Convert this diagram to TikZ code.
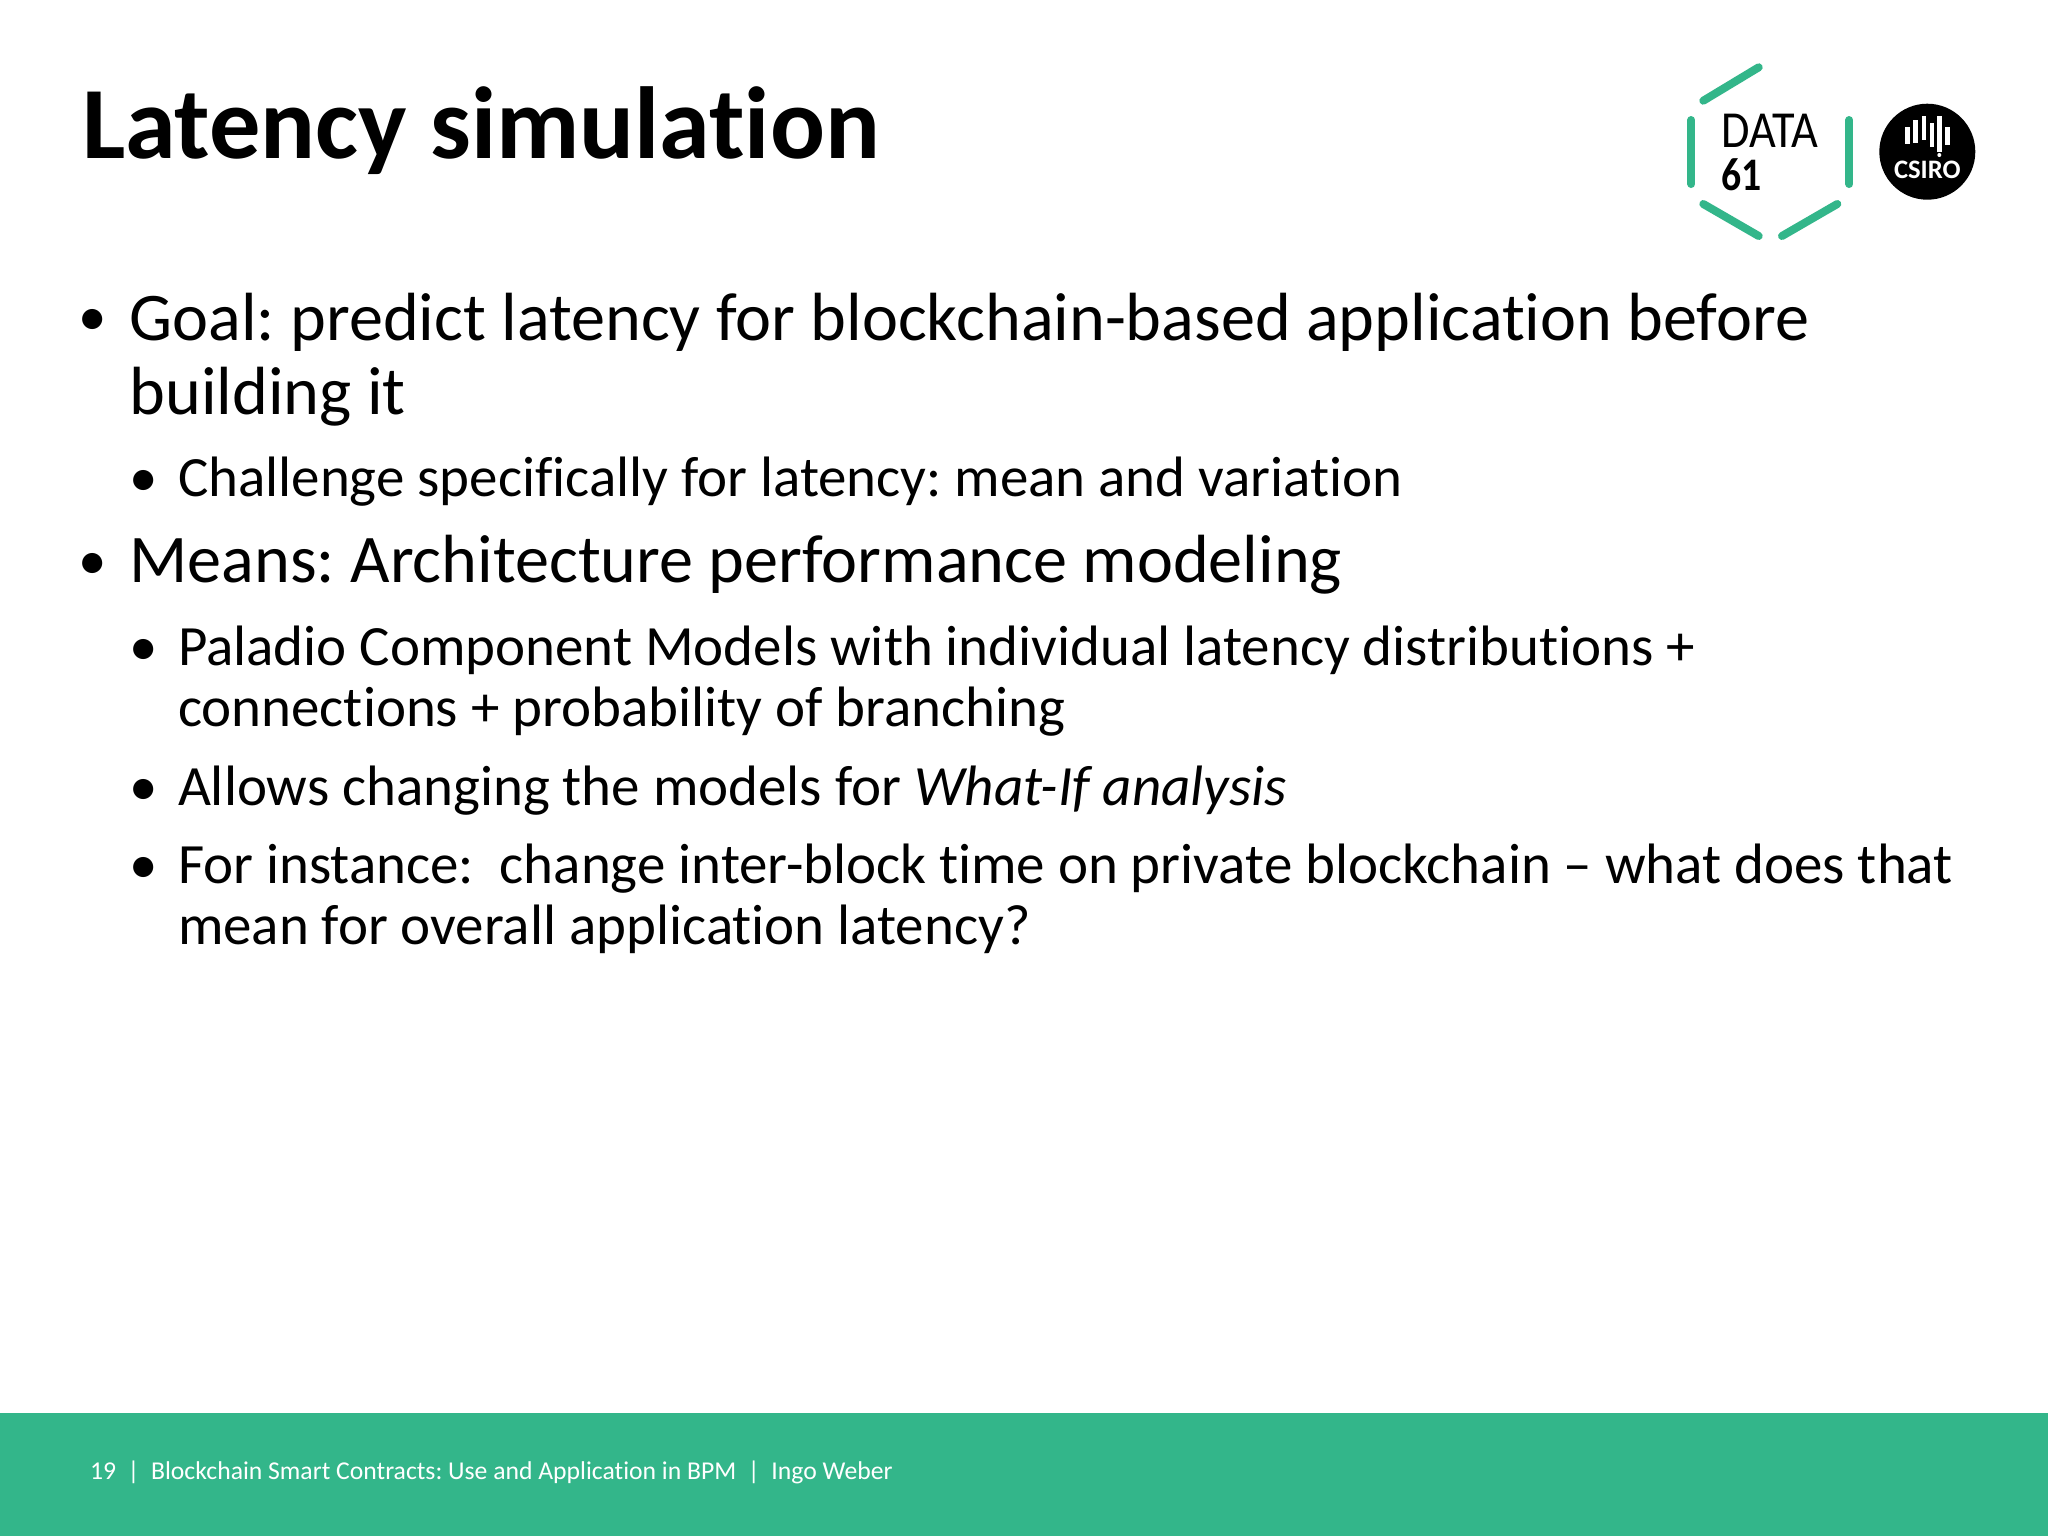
\documentclass[tikz,border=0pt]{standalone}
\usepackage{fontspec}
\setmainfont[Ligatures=NoCommon]{Carlito}
\frenchspacing
\definecolor{dgreen}{RGB}{51,182,138}
\tikzset{every picture/.style={line width=0.75pt}}
\tikzset{
  titletext/.style={anchor=base west,inner sep=0pt,font=\fontsize{38.4}{40}\selectfont\bfseries},
  bigtext/.style={anchor=base west,inner sep=0pt,font=\fontsize{25.57}{28}\selectfont},
  subtext/.style={anchor=base west,inner sep=0pt,font=\fontsize{21.36}{24}\selectfont},
  foottext/.style={anchor=base west,inner sep=0pt,text=white,font=\fontsize{9.63}{12}\selectfont},
  hexbar/.style={color=dgreen,line width=3pt,line cap=round},
  csirobar/.style={color=white,line width=1.7pt}
}
\begin{document}
\begin{tikzpicture}[x=0.375pt,y=0.375pt,yscale=-1,xscale=1]
\useasboundingbox (0,0) rectangle (2048,1536);
\fill [white] (0,0) rectangle (2048,1536);

%Footer band
\fill [dgreen] (0,1413) rectangle (2048,1536);

% Text Node
\node [titletext] (title) at (81,158) {Latency simulation};

% Text Node
\node [subtext] (bulGoal) at (77,335) {•};
\node [bigtext] (goalA) at (128.5,340) {Goal: predict latency for blockchain-based application before};
\node [bigtext] (goalB) at (128.5,414) {building it};
\node [subtext] (bulChal) at (128.5,496) {•};
\node [subtext] (chal) at (177,496) {Challenge specifically for latency: mean and variation};
\node [subtext] (bulMeans) at (77,579) {•};
\node [bigtext] (means) at (128.5,582.5) {Means: Architecture performance modeling};
\node [subtext] (bulPal) at (128.5,665) {•};
\node [subtext] (palA) at (177,665) {Paladio Component Models with individual latency distributions +};
\node [subtext] (palB) at (177,726) {connections + probability of branching};
\node [subtext] (bulAll) at (128.5,805) {•};
\node [subtext] (allows) at (177,805) {Allows changing the models for \textit{What-If analysis}};
\node [subtext] (bulFor) at (128.5,883) {•};
\node [subtext] (forA) at (177,883) {For instance:\ \ change inter-block time on private blockchain – what does that};
\node [subtext] (forB) at (177,944) {mean for overall application latency?};

% Text Node
\node [foottext] (foot) at (89,1479) {19\ \ |\ \ Blockchain Smart Contracts: Use and Application in BPM\ \ |\ \ Ingo Weber};

%Data61 hexagon
\draw [hexbar] (1703.3,100.7) -- (1758.7,67.3);
\draw [hexbar] (1691.3,120) -- (1691.3,184);
\draw [hexbar] (1849.3,120) -- (1849.3,184);
\draw [hexbar] (1703.3,204) -- (1758.7,236);
\draw [hexbar] (1782,236) -- (1837.3,204);
\node [anchor=base west,inner sep=0pt,xscale=0.89,font=\fontsize{19.5}{20}\selectfont] (data) at (1721,147) {DATA};
\node [anchor=base west,inner sep=0pt,xscale=0.85,font=\fontsize{17.5}{18}\selectfont\bfseries] (sixone) at (1721,190) {61};

%Csiro circle
\fill [black] (1927.3,151.7) circle [radius=48];
\draw [csirobar] (1907.3,127) -- (1907.3,144);
\draw [csirobar] (1915.3,120) -- (1915.3,143);
\draw [csirobar] (1924,116) -- (1924,140);
\draw [csirobar] (1932,123) -- (1932,147);
\draw [csirobar] (1939.3,116) -- (1939.3,152);
\draw [csirobar] (1947.3,127) -- (1947.3,145);
\fill [white] (1939.3,155) circle [radius=2];
\node [inner sep=0pt,text=white,font=\fontsize{10}{10}\selectfont\bfseries] (csiro) at (1927.3,170) {CSIRO};
\end{tikzpicture}
\end{document}
